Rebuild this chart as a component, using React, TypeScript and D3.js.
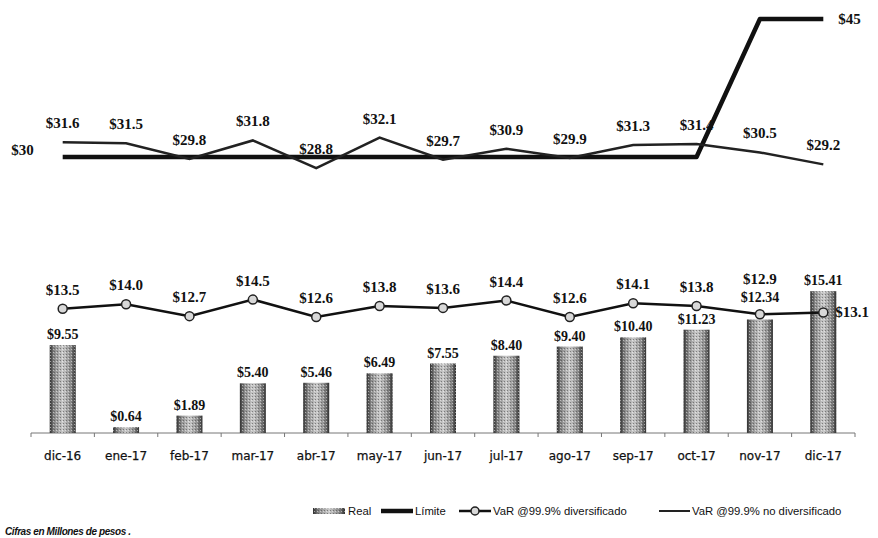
import React from "react";
import * as d3 from "d3";

const categories = ["dic-16","ene-17","feb-17","mar-17","abr-17","may-17","jun-17","jul-17","ago-17","sep-17","oct-17","nov-17","dic-17"];
const real = [9.55,0.64,1.89,5.40,5.46,6.49,7.55,8.40,9.40,10.40,11.23,12.34,15.41];
const limite = [30,30,30,30,30,30,30,30,30,30,30,45,45];
const varDiv = [13.5,14.0,12.7,14.5,12.6,13.8,13.6,14.4,12.6,14.1,13.8,12.9,13.1];
const varNoDiv = [31.6,31.5,29.8,31.8,28.8,32.1,29.7,30.9,29.9,31.3,31.4,30.5,29.2];
const legendLabels = ["Real","Límite","VaR @99.9% diversificado","VaR @99.9% no diversificado"];
const footnote = "Cifras en Millones de pesos .";

const W = 878, H = 538;
const serif = "'Liberation Serif', 'DejaVu Serif', serif";
const sans = "'Liberation Sans', Arial, sans-serif";
const tickFont = "'DejaVu Sans', Verdana, sans-serif";

export default function App() {
  const x = d3.scaleBand<string>().domain(categories).range([31, 855]).padding(0);
  const y = d3.scaleLinear().domain([0, 45]).range([433, 19]);
  const cx = (i: number) => (x(categories[i]) as number) + x.bandwidth() / 2;
  const bw = x.bandwidth() * 0.41;
  const line = d3.line<number>().x((_, i) => cx(i)).y((d) => y(d));
  const fmt1 = (v: number) => "$" + v.toFixed(1);
  const fmt2 = (v: number) => "$" + v.toFixed(2);
  const lbl = { fontFamily: serif, fontWeight: 700, fontSize: 15, fill: "#111" } as const;

  return (
    <svg width={W} height={H} style={{ position: "absolute", left: 0, top: 0, background: "#fff" }}>
      <defs>
        <linearGradient id="barg" x1="0" x2="1" y1="0" y2="0">
          <stop offset="0" stopColor="#2e2e2e" />
          <stop offset="0.18" stopColor="#8a8a8a" />
          <stop offset="0.5" stopColor="#cacaca" />
          <stop offset="0.82" stopColor="#8a8a8a" />
          <stop offset="1" stopColor="#2e2e2e" />
        </linearGradient>
        <pattern id="dots" width="3" height="3" patternUnits="userSpaceOnUse">
          <rect x="0" y="0" width="1" height="1" fill="#444" opacity="0.55" />
          <rect x="2" y="1" width="1" height="1" fill="#fff" opacity="0.5" />
        </pattern>
      </defs>

      {/* x axis */}
      <line x1={31} x2={855} y1={433} y2={433} stroke="#777" strokeWidth={1} />
      {categories.map((c, i) => (
        <line key={"t" + i} x1={x(c) as number} x2={x(c) as number} y1={433} y2={437} stroke="#777" />
      ))}
      <line x1={855} x2={855} y1={433} y2={437} stroke="#777" />
      {categories.map((c, i) => (
        <text key={"xl" + i} x={cx(i)} y={460} textAnchor="middle" fontFamily={tickFont} fontSize={12} fill="#111" stroke="#111" strokeWidth={0.25}>{c}</text>
      ))}

      {/* bars */}
      {real.map((v, i) => (
        <g key={"b" + i}>
          <rect x={cx(i) - bw / 2} y={y(v)} width={bw} height={433 - y(v)} fill="url(#barg)" />
          <rect x={cx(i) - bw / 2} y={y(v)} width={bw} height={433 - y(v)} fill="url(#dots)" />
        </g>
      ))}

      {/* lines */}
      <path d={line(limite) as string} fill="none" stroke="#111" strokeWidth={4.5} strokeLinejoin="round" />
      <path d={line(varNoDiv) as string} fill="none" stroke="#222" strokeWidth={2.5} />
      <path d={line(varDiv) as string} fill="none" stroke="#111" strokeWidth={2.5} />
      {varDiv.map((v, i) => (
        <circle key={"c" + i} cx={cx(i)} cy={y(v)} r={4.5} fill="#d8d8d8" stroke="#222" strokeWidth={1.5} />
      ))}

      {/* Limite labels */}
      <text x={cx(0) - 29} y={y(limite[0]) - 2} textAnchor="end" {...lbl}>{"$" + limite[0]}</text>
      <text x={cx(limite.length - 1) + 15} y={y(limite[limite.length - 1]) + 5} textAnchor="start" {...lbl}>{"$" + limite[limite.length - 1]}</text>

      {/* no diversificado labels */}
      {varNoDiv.map((v, i) => (
        <text key={"nl" + i} x={cx(i)} y={y(v) - 14} textAnchor="middle" {...lbl}>{fmt1(v)}</text>
      ))}

      {/* real + diversificado labels */}
      {real.map((v, i) => {
        const yr = y(v), yd = y(varDiv[i]);
        const close = yr - yd >= 0 && yr - yd < 15;
        const above = v > varDiv[i];
        const realY = close ? yd - 12 : yr - 6;
        return (
          <g key={"rl" + i}>
            <text x={cx(i)} y={realY} textAnchor="middle" {...lbl} fontSize={14}>{fmt2(v)}</text>
            {above ? (
              <text x={cx(i) + 12} y={yd + 5} textAnchor="start" {...lbl}>{fmt1(varDiv[i])}</text>
            ) : (
              <text x={cx(i)} y={close ? yd - 30 : yd - 14} textAnchor="middle" {...lbl}>{fmt1(varDiv[i])}</text>
            )}
          </g>
        );
      })}

      {/* legend */}
      <g fontFamily={sans} fontSize={11.3} fill="#111">
        <rect x={313} y={508} width={32} height={6} fill="url(#barg)" />
        <rect x={313} y={508} width={32} height={6} fill="url(#dots)" />
        <text x={348} y={515}>{legendLabels[0]}</text>
        <line x1={381} x2={413} y1={511} y2={511} stroke="#111" strokeWidth={4.5} />
        <text x={415} y={515}>{legendLabels[1]}</text>
        <line x1={459} x2={491} y1={511} y2={511} stroke="#111" strokeWidth={2.5} />
        <circle cx={475} cy={511} r={4} fill="#d8d8d8" stroke="#222" strokeWidth={1.5} />
        <text x={493} y={515}>{legendLabels[2]}</text>
        <line x1={659} x2={690} y1={511} y2={511} stroke="#222" strokeWidth={2} />
        <text x={692} y={515}>{legendLabels[3]}</text>
      </g>

      <text x={5} y={535} fontFamily={sans} fontStyle="italic" fontWeight={700} fontSize={10} fill="#111" letterSpacing={-0.4}>{footnote}</text>
    </svg>
  );
}
